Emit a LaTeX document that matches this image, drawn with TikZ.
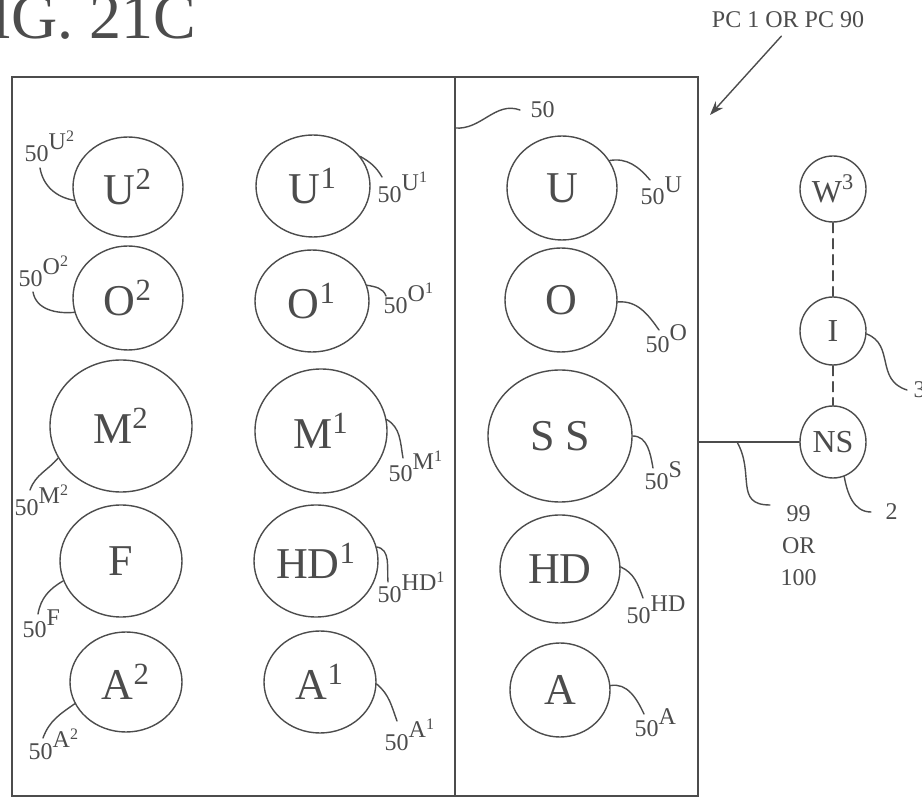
\documentclass[tikz,border=0pt]{standalone}
\usepackage{fontspec}
\setmainfont{Liberation Serif}
\usetikzlibrary{shapes.geometric,arrows.meta,positioning}
\newcommand{\fifty}[1]{50\raisebox{0.5em}{#1}}
\begin{document}
\begin{tikzpicture}[x=0.5pt,y=-0.5pt,line width=0.7pt,color=black!70,line cap=round,
  ring/.style 2 args={draw,ellipse,inner sep=0pt,minimum width=#1pt,minimum height=#2pt,font=\fontsize{22}{24}\selectfont},
  smallring/.style={font=\fontsize{16}{18}\selectfont},
  num/.style={inner sep=0pt,font=\fontsize{12}{16}\selectfont},
  >={Stealth[length=7pt,width=5pt]}]
\useasboundingbox (0,0) rectangle (922,807);
\clip (0,0) rectangle (922,807);
\node[anchor=base east,inner sep=0pt,font=\fontsize{32}{36}\selectfont] (fig) at (197,39) {FIG. 21C};
% cabinet
\draw (12,77) rectangle (698,796);
\draw (455,77) -- (455,796);
% left column
\node[ring={55}{50}] (U2) at (128,187) {U\textsuperscript{2}};
\node[ring={55}{52}] (O2) at (128,298) {O\textsuperscript{2}};
\node[ring={71}{66}] (M2) at (121,426) {M\textsuperscript{2}};
\node[ring={61}{56}] (F) at (121,561) {F};
\node[ring={56}{50}] (A2) at (126,682) {A\textsuperscript{2}};
% middle column
\node[ring={57}{51}] (U1) at (313,186) {U\textsuperscript{1}};
\node[ring={57}{51}] (O1) at (312,301) {O\textsuperscript{1}};
\node[ring={66}{62}] (M1) at (321,431) {M\textsuperscript{1}};
\node[ring={62}{56}] (HD1) at (316,561) {HD\textsuperscript{1}};
\node[ring={56}{51}] (A1) at (320,682) {A\textsuperscript{1}};
% right column
\node[ring={55}{52}] (U) at (562,188) {U};
\node[ring={56}{52}] (O) at (561,300) {O};
\node[ring={72}{66}] (SS) at (560,436) {S S};
\node[ring={60}{54}] (HD) at (560,569) {HD};
\node[ring={50}{47}] (A) at (560,690) {A};
% network
\node[ring={33}{33},smallring] (W3) at (833,189) {W\textsuperscript{3}};
\node[ring={33}{34},smallring] (I) at (833,331) {I};
\node[ring={33}{36},smallring] (NS) at (833,442) {NS};
\draw[dash pattern=on 5pt off 3pt] (W3) -- (I) (I) -- (NS);
\coordinate (tap) at (698,442);
\draw (tap) -- (NS);
% left column tags
\coordinate (eU2) at (40,168);
\coordinate (eO2) at (33,292);
\coordinate (eM2) at (30,490);
\coordinate (eF) at (38,614);
\coordinate (eA2) at (43,738);
\draw (U2.194) to[out=170,in=-80] (eU2);
\draw (O2.195) to[out=185,in=-80] (eO2);
\draw (M2.207) to[out=230,in=70] (eM2);
\draw (F.199) to[out=210,in=80] (eF);
\draw (A2.203) to[out=215,in=70] (eA2);
\node[num,anchor=base west] (lU2) at (24,162) {\fifty{U\textsuperscript{2}}};
\node[num,anchor=base west] (lO2) at (18,287) {\fifty{O\textsuperscript{2}}};
\node[num,anchor=base west] (lM2) at (14,516) {\fifty{M\textsuperscript{2}}};
\node[num,anchor=base west] (lF) at (22,638) {\fifty{F}};
\node[num,anchor=base west] (lA2) at (28,760) {\fifty{A\textsuperscript{2}}};
% middle column tags
\coordinate (eU1) at (382,177);
\coordinate (eO1) at (386,296);
\coordinate (eM1) at (403,458);
\coordinate (eHD1) at (388,582);
\coordinate (eA1) at (397,721);
\draw (U1.32) to[out=-30,in=120] (eU1);
\draw (O1.16) to[out=-10,in=110] (eO1);
\draw (M1.10) to[out=-30,in=100] (eM1);
\draw (HD1.13) to[out=-10,in=95] (eHD1);
\draw (A1.-2) to[out=-40,in=110] (eA1);
\node[num,anchor=base west] (lU1) at (377,203) {\fifty{U\textsuperscript{1}}};
\node[num,anchor=base west] (lO1) at (383,314) {\fifty{O\textsuperscript{1}}};
\node[num,anchor=base west] (lM1) at (388,482) {\fifty{M\textsuperscript{1}}};
\node[num,anchor=base west] (lHD1) at (377,603) {\fifty{HD\textsuperscript{1}}};
\node[num,anchor=base west] (lA1) at (384,750) {\fifty{A\textsuperscript{1}}};
% right column tags
\coordinate (eU) at (650,180);
\coordinate (eO) at (659,330);
\coordinate (eSS) at (653,468);
\coordinate (eHD) at (643,598);
\coordinate (eA) at (644,714);
\draw (U.30) to[out=10,in=130] (eU);
\draw (O.-2) to[out=5,in=125] (eO);
\draw (SS.0) to[out=0,in=100] (eSS);
\draw (HD.2) to[out=-25,in=110] (eHD);
\draw (A.5) to[out=10,in=115] (eA);
\node[num,anchor=base west] (lU) at (640,205) {\fifty{U}};
\node[num,anchor=base west] (lO) at (645,353) {\fifty{O}};
\node[num,anchor=base west] (lSS) at (644,490) {\fifty{S}};
\node[num,anchor=base west] (lHD) at (626,624) {\fifty{HD}};
\node[num,anchor=base west] (lA) at (634,737) {\fifty{A}};
% cabinet and network tags
\coordinate (d50) at (455,128);
\coordinate (e50) at (520,110);
\draw (d50) to[out=-5,in=160] (e50);
\node[num,right=5pt of e50] (l50) {50};
\coordinate (t99) at (737,442);
\coordinate (e99) at (770,505);
\draw (t99) to[out=-60,in=180,looseness=1.3] (e99);
\node[num,align=center,below right=0pt and 5pt of e99] (l99) {99\\OR\\100};
\coordinate (e2) at (871,512);
\draw (NS.-72) to[out=-80,in=180] (e2);
\node[num,right=7pt of e2] (l2) {2};
\coordinate (e3) at (907,390);
\draw (I.-5) .. controls (895,345) and (875,380) .. (e3);
\node[num,right=3pt of e3] (l3) {3};
% pointer
\node[num] (PC) at (788,20) {PC 1 OR PC 90};
\coordinate (pctip) at (710,115);
\draw[->,shorten <=5pt] (PC.south) -- (pctip);
\end{tikzpicture}
\end{document}
